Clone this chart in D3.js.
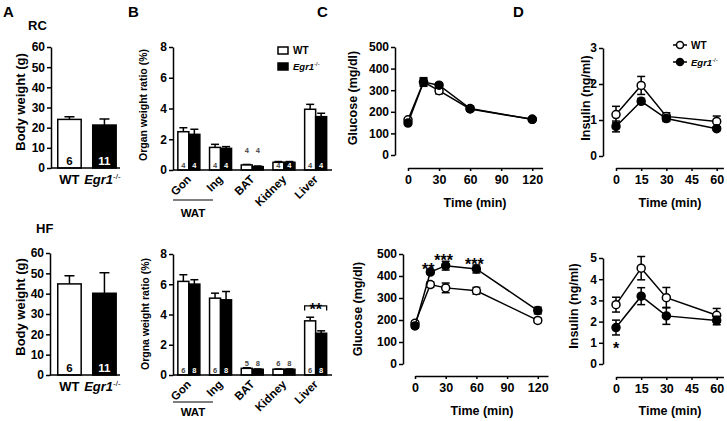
<!DOCTYPE html>
<html><head><meta charset="utf-8">
<script src="https://cdn.jsdelivr.net/npm/d3@7"></script>
<style>
body{margin:0;background:#fff}
svg{display:block}
text{font-family:"Liberation Sans",Arial,sans-serif;font-weight:bold}
</style>
</head><body>
<svg id="c" width="727" height="421"></svg>
<script>
// ---------------- DATA ----------------
const genotypes = ["WT", "Egr1"];
const bodyRC = [24.1, 21.3];
const bodyRCErr = [1.3, 3.0];
const bodyHF = [44.8, 40.2];
const bodyHFErr = [4.0, 10.1];
const bodyN = ["6", "11"];
const bodyTicks = [0, 10, 20, 30, 40, 50, 60];

const organs = ["Gon", "Ing", "BAT", "Kidney", "Liver"];
const organRC_WT = [2.49, 1.47, 0.33, 0.50, 3.95];
const organRC_WTErr = [0.26, 0.20, 0.03, 0.05, 0.32];
const organRC_KO = [2.32, 1.41, 0.22, 0.50, 3.47];
const organRC_KOErr = [0.33, 0.11, 0.04, 0.05, 0.22];
const organRC_NWT = ["4", "4", "4", "4", "4"];
const organRC_NKO = ["4", "4", "4", "4", "4"];
const organHF_WT = [6.19, 5.08, 0.44, 0.38, 3.58];
const organHF_WTErr = [0.44, 0.33, 0.04, 0.02, 0.24];
const organHF_KO = [6.01, 4.97, 0.38, 0.38, 2.76];
const organHF_KOErr = [0.29, 0.55, 0.02, 0.02, 0.16];
const organHF_NWT = ["6", "6", "5", "6", "6"];
const organHF_NKO = ["8", "8", "8", "8", "8"];
const organTicks = [0, 2, 4, 6, 8];

const gttTimes = [0, 15, 30, 60, 120];
const gttRC_WT = [163, 338, 298, 213, 165];
const gttRC_WTErr = [8, 15, 15, 10, 6];
const gttRC_KO = [148, 338, 323, 215, 165];
const gttRC_KOErr = [8, 20, 10, 12, 6];
const gttHF_WT = [185, 361, 346, 333, 198];
const gttHF_WTErr = [10, 12, 22, 15, 10];
const gttHF_KO = [173, 418, 447, 432, 243];
const gttHF_KOErr = [8, 10, 20, 18, 15];
const gttHF_Sig = ["", "**", "***", "***", ""];
const gttXTicks = [0, 30, 60, 90, 120];
const gttYTicks = [0, 100, 200, 300, 400, 500];

const insTimes = [0, 15, 30, 60];
const insRC_WT = [1.15, 1.96, 1.10, 0.96];
const insRC_WTErr = [0.23, 0.25, 0.10, 0.15];
const insRC_KO = [0.82, 1.52, 1.04, 0.76];
const insRC_KOErr = [0.15, 0.08, 0.08, 0.05];
const insHF_WT = [2.80, 4.52, 3.13, 2.30];
const insHF_WTErr = [0.35, 0.55, 0.48, 0.32];
const insHF_KO = [1.72, 3.20, 2.27, 2.05];
const insHF_KOErr = [0.35, 0.40, 0.40, 0.20];
const insHF_Sig = ["*", "", "", ""];
const insXTicks = [0, 15, 30, 45, 60];
const insRCYTicks = [0, 1, 2, 3];
const insHFYTicks = [0, 1, 2, 3, 4, 5];

// ---------------- DRAWING ----------------
const svg = d3.select("#c");
const FONT = '"Liberation Sans",Arial,sans-serif';
const SW = 1.5;

function styleAxis(sel, fs) {
  sel.attr("font-family", FONT).attr("font-size", fs).attr("font-weight", "bold");
  sel.selectAll("path,line").attr("stroke", "#000").attr("stroke-width", SW);
  sel.selectAll("text").attr("fill", "#000");
}
function yAxis(y, ticks, x0, fs) {
  svg.append("g").attr("transform", `translate(${x0},0)`)
    .call(d3.axisLeft(y).tickValues(ticks).tickFormat(d3.format("d")).tickSize(4).tickSizeOuter(0).tickPadding(2))
    .call(s => styleAxis(s, fs || 12));
}
function text(x, y, str, o) {
  o = o || {};
  const t = svg.append("text").attr("x", x).attr("y", y).text(str)
    .attr("font-size", o.fs || 12).attr("text-anchor", o.anchor || "start")
    .attr("fill", o.fill || "#000");
  if (o.rot) t.attr("transform", `rotate(${o.rot},${x},${y})`);
  if (o.italic) t.attr("font-style", "italic");
  if (o.weight) t.attr("font-weight", o.weight);
  return t;
}
function egrLabel(x, y, fs, anchor) {
  const t = svg.append("text").attr("x", x).attr("y", y).attr("font-size", fs)
    .attr("fill", "#000").attr("text-anchor", anchor || "start");
  t.append("tspan").attr("font-style", "italic").text("Egr1");
  t.append("tspan").attr("font-size", fs * 0.62).attr("dy", -fs * 0.42).attr("font-weight", "normal").text("-/-");
  return t;
}

// Body weight bar panels
function bodyPanel(vals, errs, L) {
  const y = d3.scaleLinear().domain([0, 60]).range([L.y0, L.y1]);
  const x = d3.scaleBand().domain(genotypes).range([52.5, 121.4]).paddingInner(0.33).paddingOuter(0.15);
  const data = genotypes.map((g, i) => ({ g, v: vals[i], e: errs[i], n: bodyN[i] }));
  svg.append("g").selectAll("g").data(data).join("g").each(function (d) {
    const g = d3.select(this), cx = x(d.g) + x.bandwidth() / 2;
    g.append("line").attr("x1", cx).attr("x2", cx).attr("y1", y(d.v)).attr("y2", y(d.v + d.e)).attr("stroke", "#000").attr("stroke-width", SW);
    g.append("line").attr("x1", cx - 5).attr("x2", cx + 5).attr("y1", y(d.v + d.e)).attr("y2", y(d.v + d.e)).attr("stroke", "#000").attr("stroke-width", SW);
  });
  svg.append("g").selectAll("rect").data(data).join("rect")
    .attr("x", d => x(d.g)).attr("width", x.bandwidth())
    .attr("y", d => y(d.v)).attr("height", d => y(0) - y(d.v))
    .attr("fill", (d, i) => i ? "#000" : "#fff").attr("stroke", "#000").attr("stroke-width", SW);
  data.forEach((d, i) => text(x(d.g) + x.bandwidth() / 2, L.y0 - 3, d.n, { fs: 11.5, anchor: "middle", fill: i ? "#fff" : "#000" }));
  svg.append("line").attr("x1", L.ax).attr("x2", 120).attr("y1", y(0)).attr("y2", y(0)).attr("stroke", "#000").attr("stroke-width", SW);
  yAxis(y, bodyTicks, L.ax, 12);
  text(x("WT") + x.bandwidth() / 2, L.catY, "WT", { fs: 13, anchor: "middle" });
  egrLabel(x("Egr1") + x.bandwidth() / 2 - 2, L.catY, 13, "middle");
}

// Organ weight bar panels
function organPanel(wt, wtE, ko, koE, nwt, nko, L) {
  const y = d3.scaleLinear().domain([0, 8]).range([L.y0, L.y1]);
  const x = d3.scaleBand().domain(organs).range([173, 331.5]);
  const bw = 11;
  const series = [
    { key: "WT", vals: wt, errs: wtE, ns: nwt, fill: "#fff", nfill: "#444", off: -bw },
    { key: "KO", vals: ko, errs: koE, ns: nko, fill: "#000", nfill: "#fff", off: 0 }
  ];
  series.forEach(s => {
    const data = organs.map((o, i) => ({ o, v: s.vals[i], e: s.errs[i], n: s.ns[i] }));
    const cx = d => x(d.o) + x.bandwidth() / 2 + s.off;
    svg.append("g").selectAll("g").data(data).join("g").each(function (d) {
      const g = d3.select(this), c = cx(d) + bw / 2;
      g.append("line").attr("x1", c).attr("x2", c).attr("y1", y(d.v)).attr("y2", y(d.v + d.e)).attr("stroke", "#000").attr("stroke-width", SW);
      g.append("line").attr("x1", c - 4).attr("x2", c + 4).attr("y1", y(d.v + d.e)).attr("y2", y(d.v + d.e)).attr("stroke", "#000").attr("stroke-width", SW);
    });
    svg.append("g").selectAll("rect").data(data).join("rect")
      .attr("x", cx).attr("width", bw)
      .attr("y", d => y(d.v)).attr("height", d => y(0) - y(d.v))
      .attr("fill", s.fill).attr("stroke", "#000").attr("stroke-width", SW);
    data.forEach(d => {
      const h = y(0) - y(d.v);
      if (h >= 7) text(cx(d) + bw / 2, L.y0 - 2, d.n, { fs: 7.5, anchor: "middle", fill: s.nfill });
      else text(cx(d) + bw / 2, L.y0 - L.above, d.n, { fs: 7.5, anchor: "middle", fill: "#444" });
    });
  });
  svg.append("line").attr("x1", 173).attr("x2", 332).attr("y1", y(0)).attr("y2", y(0)).attr("stroke", "#000").attr("stroke-width", SW);
  yAxis(y, organTicks, 173, 12);
  organs.forEach(o => {
    const px = x(o) + x.bandwidth() / 2 + 3, py = L.y0 + 10;
    text(px, py, o, { fs: 11.5, anchor: "end", rot: -45 });
  });
  svg.append("line").attr("x1", 173).attr("x2", 213).attr("y1", L.y0 + L.watLine).attr("y2", L.y0 + L.watLine).attr("stroke", "#000").attr("stroke-width", 1.2);
  text(193, L.y0 + L.watLine + L.watText, "WAT", { fs: 11.5, anchor: "middle" });
  return { x, y, bw };
}

// Line (time course) panels
function linePanel(times, wt, wtE, ko, koE, L) {
  const x = d3.scaleLinear().domain(L.xd).range(L.xr);
  const y = d3.scaleLinear().domain(L.yd).range([L.y0, L.y1]);
  const line = d3.line().x(d => x(d.t)).y(d => y(d.v));
  const series = [
    { vals: wt, errs: wtE, fill: "#fff" },
    { vals: ko, errs: koE, fill: "#000" }
  ];
  series.forEach(s => {
    const data = times.map((t, i) => ({ t, v: s.vals[i], e: s.errs[i] }));
    svg.append("path").datum(data).attr("d", line).attr("fill", "none").attr("stroke", "#000").attr("stroke-width", SW);
    const eg = svg.append("g");
    data.forEach(d => {
      const cx = x(d.t);
      eg.append("line").attr("x1", cx).attr("x2", cx).attr("y1", y(d.v - d.e)).attr("y2", y(d.v + d.e)).attr("stroke", "#000").attr("stroke-width", SW);
      [d.v - d.e, d.v + d.e].forEach(v => eg.append("line").attr("x1", cx - 4).attr("x2", cx + 4).attr("y1", y(v)).attr("y2", y(v)).attr("stroke", "#000").attr("stroke-width", SW));
    });
    svg.append("g").selectAll("circle").data(data).join("circle")
      .attr("cx", d => x(d.t)).attr("cy", d => y(d.v)).attr("r", 4)
      .attr("fill", s.fill).attr("stroke", "#000").attr("stroke-width", SW);
  });
  yAxis(y, L.yt, L.ax, 12);
  svg.append("g").attr("transform", `translate(0,${L.xay})`)
    .call(d3.axisBottom(x).tickValues(L.xt).tickSize(3).tickSizeOuter(0).tickPadding(4))
    .call(s => styleAxis(s, 12.5));
  return { x, y };
}

// ---- Panel letters & row titles
text(3, 17, "A", { fs: 15 });
text(128, 17, "B", { fs: 15 });
text(317, 17, "C", { fs: 15 });
text(513, 17, "D", { fs: 15 });
text(28, 30, "RC", { fs: 13 });
text(36, 233, "HF", { fs: 13 });

// ---- A
bodyPanel(bodyRC, bodyRCErr, { y0: 168, y1: 47, ax: 51, catY: 184 });
bodyPanel(bodyHF, bodyHFErr, { y0: 375, y1: 253, ax: 50, catY: 391 });
text(25, 102, "Body weight (g)", { fs: 13, anchor: "middle", rot: -90 });
text(25, 307, "Body weight (g)", { fs: 13, anchor: "middle", rot: -90 });

// ---- B
organPanel(organRC_WT, organRC_WTErr, organRC_KO, organRC_KOErr, organRC_NWT, organRC_NKO,
  { y0: 170, y1: 47, above: 17, watLine: 30, watText: 17 });
const hfB = organPanel(organHF_WT, organHF_WTErr, organHF_KO, organHF_KOErr, organHF_NWT, organHF_NKO,
  { y0: 375, y1: 254, above: 9, watLine: 27, watText: 14 });
text(147, 105, "Organ weight ratio (%)", { fs: 10.5, anchor: "middle", rot: -90 });
text(149, 314, "Orgna weight ratio (%)", { fs: 10.5, anchor: "middle", rot: -90 });
// legend B
svg.append("rect").attr("x", 278).attr("y", 47).attr("width", 10).attr("height", 7).attr("fill", "#fff").attr("stroke", "#000").attr("stroke-width", SW);
svg.append("rect").attr("x", 278).attr("y", 63).attr("width", 10).attr("height", 7).attr("fill", "#000").attr("stroke", "#000").attr("stroke-width", SW);
text(293, 54, "WT", { fs: 10 });
egrLabel(293, 70, 9.5);
// liver significance bracket (HF)
{
  const { x, y, bw } = hfB;
  const c = x("Liver") + x.bandwidth() / 2;
  const l = c - bw, r = c + bw, yt = y(4.57), yb = y(4.26);
  svg.append("path").attr("d", `M${l},${yb}V${yt}H${r}V${yb}`).attr("fill", "none").attr("stroke", "#000").attr("stroke-width", 1.3);
  text(c, yt + 9, "**", { fs: 16, anchor: "middle", weight: "normal" });
}

// ---- C
linePanel(gttTimes, gttRC_WT, gttRC_WTErr, gttRC_KO, gttRC_KOErr,
  { xd: [0, 130], xr: [408, 542.6], yd: [0, 500], y0: 155, y1: 47, ax: 395, xay: 168, yt: gttYTicks, xt: gttXTicks });
const hfC = linePanel(gttTimes, gttHF_WT, gttHF_WTErr, gttHF_KO, gttHF_KOErr,
  { xd: [0, 130], xr: [415, 548], yd: [0, 500], y0: 364, y1: 254, ax: 403, xay: 376, yt: gttYTicks, xt: gttXTicks });
gttTimes.forEach((t, i) => {
  if (gttHF_Sig[i]) text(hfC.x(t) - 2, hfC.y(gttHF_KO[i] + gttHF_KOErr[i]) + 5, gttHF_Sig[i], { fs: 16, anchor: "middle", weight: "normal" });
});
text(357, 98, "Glucose (mg/dl)", { fs: 12.5, anchor: "middle", rot: -90 });
text(362, 309, "Glucose (mg/dl)", { fs: 12.5, anchor: "middle", rot: -90 });
text(475, 207, "Time (min)", { fs: 12.5, anchor: "middle" });
text(482, 415, "Time (min)", { fs: 12.5, anchor: "middle" });

// ---- D
linePanel(insTimes, insRC_WT, insRC_WTErr, insRC_KO, insRC_KOErr,
  { xd: [0, 64], xr: [616, 723.4], yd: [0, 3], y0: 156, y1: 48, ax: 603, xay: 168, yt: insRCYTicks, xt: insXTicks });
const hfD = linePanel(insTimes, insHF_WT, insHF_WTErr, insHF_KO, insHF_KOErr,
  { xd: [0, 64], xr: [616, 723.4], yd: [0, 5], y0: 364, y1: 258, ax: 603, xay: 377, yt: insHFYTicks, xt: insXTicks });
insTimes.forEach((t, i) => {
  if (insHF_Sig[i]) text(hfD.x(t), hfD.y(insHF_KO[i] - insHF_KOErr[i]) + 19, insHF_Sig[i], { fs: 16, anchor: "middle", weight: "normal" });
});
text(590, 98, "Insulin (ng/ml)", { fs: 12.5, anchor: "middle", rot: -90 });
text(578, 306, "Insulin (ng/ml)", { fs: 12.5, anchor: "middle", rot: -90 });
text(670, 207, "Time (min)", { fs: 12.5, anchor: "middle" });
text(670, 415, "Time (min)", { fs: 12.5, anchor: "middle" });
// legend D
[{ y: 45, fill: "#fff" }, { y: 62, fill: "#000" }].forEach(d => {
  svg.append("line").attr("x1", 673).attr("x2", 687).attr("y1", d.y).attr("y2", d.y).attr("stroke", "#000").attr("stroke-width", SW);
  svg.append("circle").attr("cx", 680).attr("cy", d.y).attr("r", 3.5).attr("fill", d.fill).attr("stroke", "#000").attr("stroke-width", SW);
});
text(691, 49, "WT", { fs: 10 });
egrLabel(691, 66, 9.5);
</script>
</body></html>
